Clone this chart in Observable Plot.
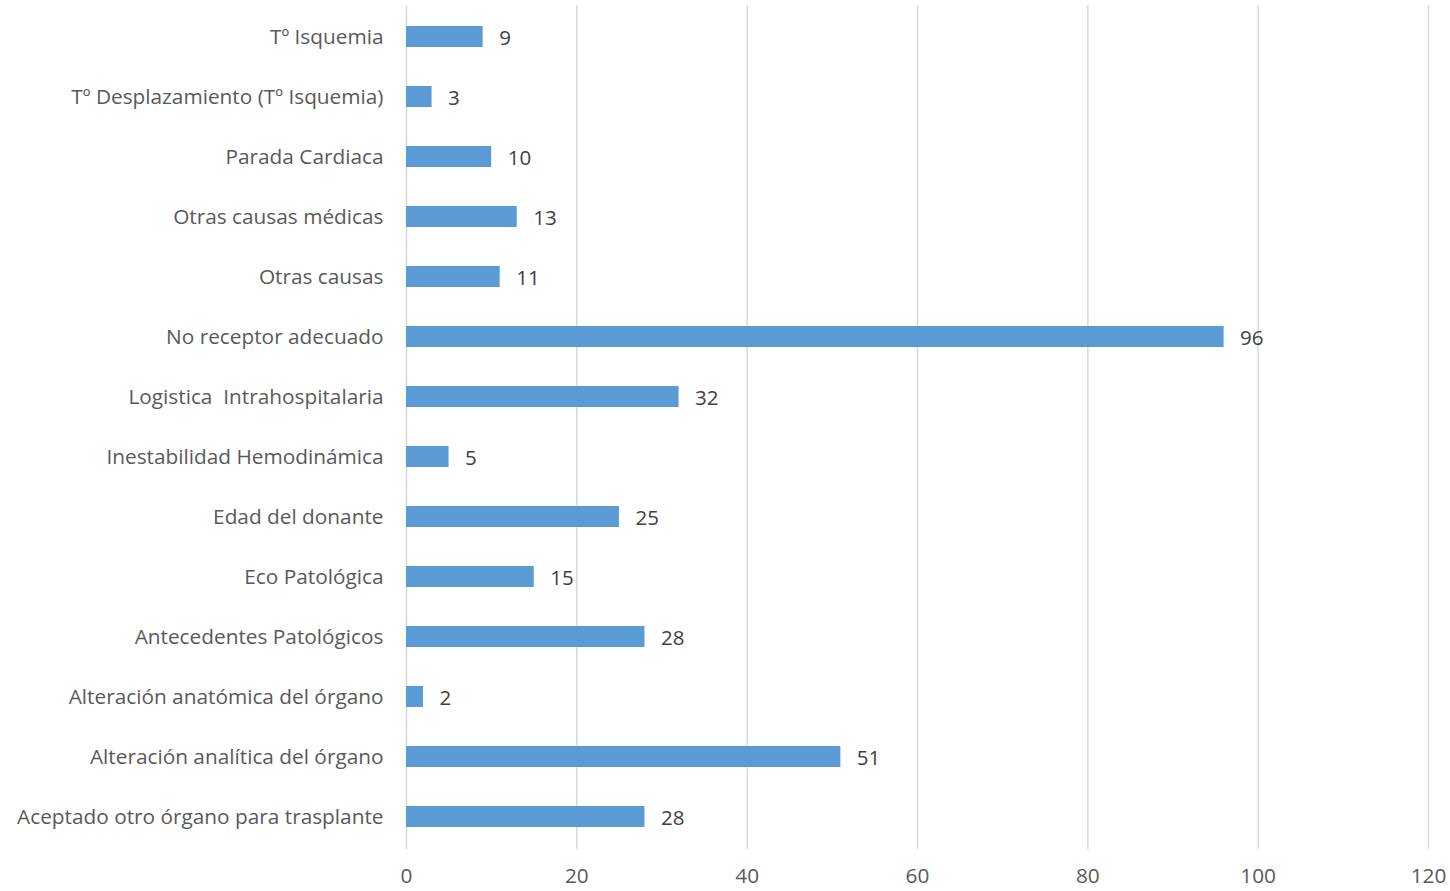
<!DOCTYPE html>
<html>
<head>
<meta charset="utf-8">
<script src="https://cdn.jsdelivr.net/npm/d3@7"></script>
<script src="https://cdn.jsdelivr.net/npm/@observablehq/plot@0.6"></script>
<style>
  html, body { margin: 0; padding: 0; background: #fff; }
  svg text { white-space: pre; }
</style>
</head>
<body>
<div id="chart"></div>
<script>
const categories = [
  "Tº Isquemia",
  "Tº Desplazamiento (Tº Isquemia)",
  "Parada Cardiaca",
  "Otras causas médicas",
  "Otras causas",
  "No receptor adecuado",
  "Logistica  Intrahospitalaria",
  "Inestabilidad Hemodinámica",
  "Edad del donante",
  "Eco Patológica",
  "Antecedentes Patológicos",
  "Alteración anatómica del órgano",
  "Alteración analítica del órgano",
  "Aceptado otro órgano para trasplante"
];
const values = [9, 3, 10, 13, 11, 96, 32, 5, 25, 15, 28, 2, 51, 28];
const xTicks = [0, 20, 40, 60, 80, 100, 120];

const data = categories.map((c, i) => ({category: c, value: values[i]}));

const chart = Plot.plot({
  width: 1450,
  height: 891,
  marginTop: 5,
  marginBottom: 42,
  marginLeft: 406,
  marginRight: 22,
  style: {fontFamily: "'Open Sans', sans-serif", fontSize: "20.8px", color: "#595959", background: "#fff"},
  x: {domain: [0, 120], label: null},
  y: {domain: categories, label: null, paddingInner: 0.65, paddingOuter: 0.325},
  marks: [
    Plot.ruleX(xTicks, {stroke: "#d9d9d9", strokeWidth: 1.5}),
    Plot.axisX({ticks: xTicks, tickSize: 0, tickPadding: 19, tickFormat: d => String(d), label: null}),
    Plot.axisY({tickSize: 0, tickPadding: 23, dy: -1, label: null}),
    Plot.barX(data, {x: "value", y: "category", fill: "#5b9bd5", dy: -1}),
    Plot.text(data, {x: "value", y: "category", text: d => String(d.value), textAnchor: "start", dx: 16, dy: 0, fill: "#404040", fontSize: 20.5})
  ]
});
document.getElementById("chart").appendChild(chart);
</script>
</body>
</html>
